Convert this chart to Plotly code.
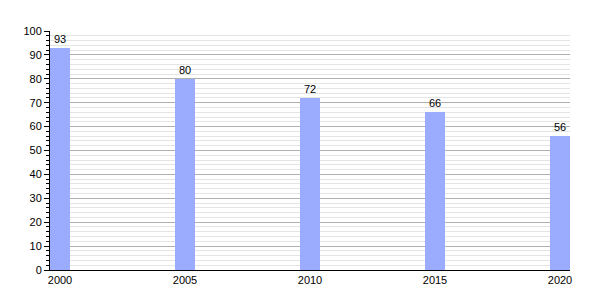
import plotly.graph_objects as go

years = [2000, 2005, 2010, 2015, 2020]
values = [93, 80, 72, 66, 56]
year_labels = ["2000", "2005", "2010", "2015", "2020"]
value_labels = ["93", "80", "72", "66", "56"]

fig = go.Figure()
fig.add_trace(go.Bar(
    x=years, y=values, offset=0, width=0.8,
    marker=dict(color="#9bacff", line=dict(width=0)),
    text=value_labels, textposition="outside",
    textfont=dict(family="Liberation Sans, Arial", size=11, color="#000"),
    cliponaxis=False,
))
fig.update_layout(
    width=600, height=300,
    margin=dict(l=50, r=30, t=31, b=30),
    paper_bgcolor="white", plot_bgcolor="white",
    showlegend=False,
    font=dict(family="Liberation Sans, Arial", size=11, color="#000"),
    bargap=0,
)
fig.update_xaxes(
    range=[2000, 2020.8],
    tickvals=[y + 0.4 for y in years], ticktext=year_labels,
    ticks="", showgrid=False, zeroline=False,
    showline=True, linecolor="black", linewidth=1,
    tickfont=dict(size=11),
)
fig.update_yaxes(
    range=[0, 100], dtick=10, tick0=0,
    ticks="outside", ticklen=5, tickcolor="black", tickwidth=1,
    showgrid=True, gridcolor="#b0b0b0", gridwidth=1,
    zeroline=False,
    showline=True, linecolor="black", linewidth=1,
    minor=dict(dtick=2, showgrid=True, gridcolor="#e4e4e4", ticks="outside", ticklen=3, tickcolor="black"),
    tickfont=dict(size=11),
)
fig.write_html("out.html")
